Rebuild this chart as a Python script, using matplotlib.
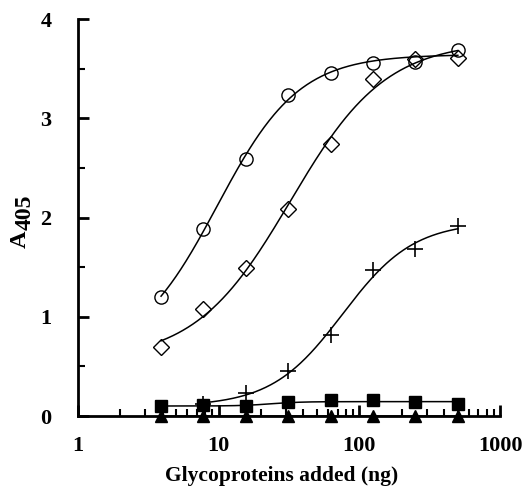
"""A405 vs amount of glycoprotein added, with 4-parameter logistic fits."""

import matplotlib

matplotlib.use("Agg")
import matplotlib.pyplot as plt
import numpy as np
from matplotlib.ticker import FixedLocator, LogLocator, NullFormatter

# ng of glycoprotein added (two-fold dilutions)
dose = [3.9, 7.8, 15.6, 31.25, 62.5, 125, 250, 500]

circle_y = [1.20, 1.89, 2.59, 3.24, 3.46, 3.56, 3.57, 3.69]
diamond_y = [0.70, 1.08, 1.49, 2.09, 2.74, 3.40, 3.60, 3.61]
plus_dose = [7.8, 15.6, 31.25, 62.5, 125, 250, 500]
plus_y = [0.12, 0.23, 0.45, 0.82, 1.47, 1.68, 1.92]
square_y = [0.10, 0.11, 0.10, 0.14, 0.16, 0.16, 0.14, 0.12]
triangle_y = [0.0, 0.0, 0.0, 0.0, 0.0, 0.0, 0.0, 0.0]

x_ticks = [1, 10, 100, 1000]
y_ticks = [0, 1, 2, 3, 4]


def fit_4pl(x, y):
    """网格搜索 ec50 / hill，bottom 与 top 用线性最小二乘求解。"""
    x = np.asarray(x, float)
    y = np.asarray(y, float)
    best = None
    for lec in np.arange(0.0, 3.5, 0.01):
        for h in np.arange(0.3, 4.0, 0.02):
            f = 1.0 / (1.0 + (10**lec / x) ** h)
            a = np.column_stack([1 - f, f])
            coef, *_ = np.linalg.lstsq(a, y, rcond=None)
            res = np.sum((a @ coef - y) ** 2)
            if best is None or res < best[0]:
                best = (res, coef[0], coef[1], 10**lec, h)
    _, bot, top, ec50, h = best
    return lambda t: bot + (top - bot) / (1.0 + (ec50 / t) ** h)


plt.rcParams["font.family"] = ["Liberation Serif", "DejaVu Serif"]
plt.rcParams["font.weight"] = "bold"

W, H = 526, 493
fig = plt.figure(figsize=(W / 100, H / 100), dpi=100)
ax = fig.add_axes([0.148, 0.156, 0.803, 0.805])

series = [
    (dose, circle_y, dict(marker="o", ms=9.5, mfc="none")),
    (dose, diamond_y, dict(marker="D", ms=8.5, mfc="none")),
    (plus_dose, plus_y, dict(marker="+", ms=12, mew=1.2)),
    (dose, square_y, dict(marker="s", ms=8, mfc="black")),
    (dose, triangle_y, dict(marker="^", ms=8.5, mfc="black")),
]

for xs, ys, style in series:
    curve = fit_4pl(xs, ys)
    xx = np.logspace(np.log10(xs[0]), np.log10(xs[-1]), 300)
    ax.plot(xx, curve(xx), color="black", lw=1.1, clip_on=False, zorder=2)
    ax.plot(xs, ys, ls="none", color="black", mec="black", clip_on=False,
            zorder=3, **style)

ax.set_xscale("log")
ax.set_xlim(1, 1000)
ax.set_ylim(0, 4)

ax.xaxis.set_major_locator(FixedLocator(x_ticks))
ax.set_xticklabels([str(t) for t in x_ticks])
ax.xaxis.set_minor_locator(LogLocator(base=10, subs=np.arange(2, 10)))
ax.xaxis.set_minor_formatter(NullFormatter())
ax.yaxis.set_major_locator(FixedLocator(y_ticks))
ax.yaxis.set_minor_locator(FixedLocator([0.5, 1.5, 2.5, 3.5]))

for side in ("top", "right"):
    ax.spines[side].set_visible(False)
for side in ("left", "bottom"):
    ax.spines[side].set_linewidth(2)

ax.tick_params(which="major", direction="in", length=8, width=2, labelsize=16)
ax.tick_params(which="minor", direction="in", length=5, width=1.5)
ax.tick_params(axis="x", pad=14)
ax.tick_params(axis="y", pad=19)

ax.set_xlabel("Glycoproteins added (ng)", fontsize=15.5, fontweight="bold")
ax.xaxis.set_label_coords(0.483, -0.125)

# y label: "A" with a lowered "405", same size
fig.text(20 / W, 1 - 239 / H, "A", rotation=90, fontsize=17.5,
         fontweight="bold", ha="center", va="center")
fig.text(25 / W, 1 - 212 / H, "405", rotation=90, fontsize=17,
         fontweight="bold", ha="center", va="center")

fig.savefig("out.png", dpi=100)
